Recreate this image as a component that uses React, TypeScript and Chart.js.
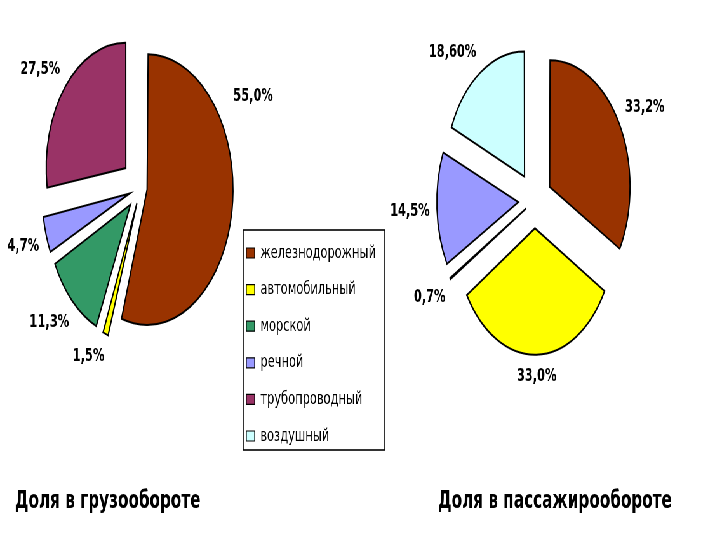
import React, { useEffect, useRef } from 'react';
import { Chart, registerables } from 'chart.js';

Chart.register(...registerables);

// ---------- data ----------
const categories = ['железнодорожный', 'автомобильный', 'морской', 'речной', 'трубопроводный', 'воздушный'];
const freightValues = [55.0, 1.5, 11.3, 4.7, 27.5, 0];
const passengerValues = [33.2, 33.0, 0.7, 14.5, 0, 18.6];
const freightDecimals = [1, 1, 1, 1, 1, 1];
const passengerDecimals = [1, 1, 1, 1, 1, 2];
const freightTitle = 'Доля в грузообороте';
const passengerTitle = 'Доля в пассажирообороте';

// ---------- style ----------
const sliceColors = ['#993300', '#FFFF00', '#339966', '#9999FF', '#993366', '#CCFFFF'];
const SX = 0.635; // horizontal squeeze of the whole picture
const FULL_W = 720 / SX;
const EXPLODE = 31;
const LABEL_GAP = 11;
const FONT = 'DejaVu Sans';
// label angle hints (degrees clockwise from 12 o'clock), Excel "best fit" placement
const freightLabelAngles: Record<number, number> = { 0: 62.7, 1: 206, 2: 227, 4: 307 };
const passengerLabelAngles: Record<number, number> = { 0: 61.6, 5: 319 };

function explodeOffset(ctx: any) {
  const data: number[] = ctx.dataset.data;
  const total = data.reduce((a, b) => a + b, 0);
  const v = data[ctx.dataIndex] || 0;
  const circ = (2 * Math.PI * v) / total;
  const fix = 1 - Math.sin(Math.min(Math.PI, circ));
  const t = circ >= Math.PI ? EXPLODE / 3 : EXPLODE / (1 + fix);
  return 4 * t;
}

function fmt(v: number, d: number) {
  return v.toFixed(d).replace('.', ',') + '%';
}

function makePctLabels(id: string, decimals: number[], angleOverrides: Record<number, number>) {
  return {
    id,
    afterDraw(chart: any) {
      const meta = chart.getDatasetMeta(0);
      const data: number[] = chart.data.datasets[0].data;
      const ctx = chart.ctx;
      ctx.save();
      ctx.font = `bold 18px "${FONT}"`;
      ctx.fillStyle = '#000';
      ctx.textAlign = 'center';
      ctx.textBaseline = 'middle';
      meta.data.forEach((arc: any, i: number) => {
        const v = data[i];
        if (!v) return;
        const p = arc.getProps(['x', 'y', 'startAngle', 'endAngle', 'outerRadius'], true);
        let phi = (p.startAngle + p.endAngle) / 2;
        if (angleOverrides[i] !== undefined) phi = ((angleOverrides[i] - 90) * Math.PI) / 180;
        const text = fmt(v, decimals[i]);
        const hw = ctx.measureText(text).width / 2;
        const hh = 10;
        const r = p.outerRadius + EXPLODE + LABEL_GAP + Math.abs(Math.cos(phi)) * hw + Math.abs(Math.sin(phi)) * hh;
        ctx.fillText(text, p.x + r * Math.cos(phi), p.y + r * Math.sin(phi));
      });
      ctx.restore();
    },
  };
}

const legendFrame = {
  id: 'legendFrame',
  afterDraw(chart: any) {
    const hb = chart.legend?.legendHitBoxes || [];
    if (!hb.length) return;
    const l = Math.min(...hb.map((h: any) => h.left)) - 5;
    const t = Math.min(...hb.map((h: any) => h.top)) - 14;
    const b = Math.max(...hb.map((h: any) => h.top + h.height)) + 5;
    const ctx = chart.ctx;
    ctx.save();
    ctx.strokeStyle = '#000';
    ctx.lineWidth = 1.6;
    ctx.strokeRect(l, t, 223, b - t);
    ctx.restore();
  },
};

const hideArcs = { id: 'hideArcs', beforeDatasetsDraw: () => false };

function pieConfig(values: number[], title: string, align: 'start' | 'end', radius: number,
  padding: any, titlePadTop: number, plugins: any[]) {
  return {
    type: 'pie' as const,
    data: {
      labels: categories,
      datasets: [{
        data: values,
        backgroundColor: sliceColors,
        borderColor: '#000',
        borderWidth: 2,
        borderJoinStyle: 'miter',
        offset: explodeOffset,
        clip: false,
      }],
    },
    options: {
      responsive: false,
      animation: false,
      events: [],
      radius,
      layout: { padding },
      plugins: {
        legend: { display: false },
        tooltip: { enabled: false },
        title: {
          display: true,
          text: title,
          position: 'bottom',
          align,
          color: '#000',
          font: { family: FONT, size: 24, weight: 'bold', lineHeight: 1.2 },
          padding: { top: titlePadTop, bottom: 23.6 },
        },
      },
    },
    plugins,
  };
}

export default function App() {
  const leftRef = useRef<HTMLCanvasElement>(null);
  const rightRef = useRef<HTMLCanvasElement>(null);
  const legRef = useRef<HTMLCanvasElement>(null);

  useEffect(() => {
    const charts: Chart[] = [];
    charts.push(new Chart(leftRef.current!, pieConfig(freightValues, freightTitle, 'start', 125,
      { left: 23.6, right: 40.8, top: 0, bottom: 0 }, 111.6,
      [makePctLabels('pctLeft', freightDecimals, freightLabelAngles)]) as any));
    charts.push(new Chart(rightRef.current!, pieConfig(passengerValues, passengerTitle, 'end', 123,
      { left: 25.8, right: 76, top: 0, bottom: 0 }, 86.2,
      [makePctLabels('pctRight', passengerDecimals, passengerLabelAngles)]) as any));
    charts.push(new Chart(legRef.current!, {
      type: 'pie',
      data: {
        labels: categories,
        datasets: [{ data: freightValues, backgroundColor: sliceColors, borderColor: '#000', borderWidth: 1.2 }],
      },
      options: {
        responsive: false,
        animation: false,
        events: [],
        layout: { padding: { left: 9.4, top: 25.4, right: 0, bottom: 0 } },
        plugins: {
          tooltip: { enabled: false },
          legend: {
            display: true,
            position: 'left',
            align: 'start',
            labels: {
              boxWidth: 13,
              boxHeight: 10,
              padding: 18.6,
              color: '#000',
              font: { family: FONT, size: 18 },
            },
          },
        },
      },
      plugins: [hideArcs, legendFrame],
    } as any));
    return () => charts.forEach((c) => c.destroy());
  }, []);

  return (
    <div style={{ position: 'absolute', left: 0, top: 0, width: 720, height: 540, overflow: 'hidden', background: '#fff' }}>
      <div style={{ position: 'absolute', left: 0, top: 0, width: FULL_W, height: 540, transform: `scaleX(${SX})`, transformOrigin: '0 0' }}>
        <canvas ref={leftRef} width={460} height={540} style={{ position: 'absolute', left: 0, top: 0, width: 460, height: 540 }} />
        <canvas ref={rightRef} width={534} height={540} style={{ position: 'absolute', left: 600, top: 0, width: 534, height: 540 }} />
        <canvas ref={legRef} width={600} height={280} style={{ position: 'absolute', left: 360, top: 200, width: 600, height: 280 }} />
      </div>
    </div>
  );
}
